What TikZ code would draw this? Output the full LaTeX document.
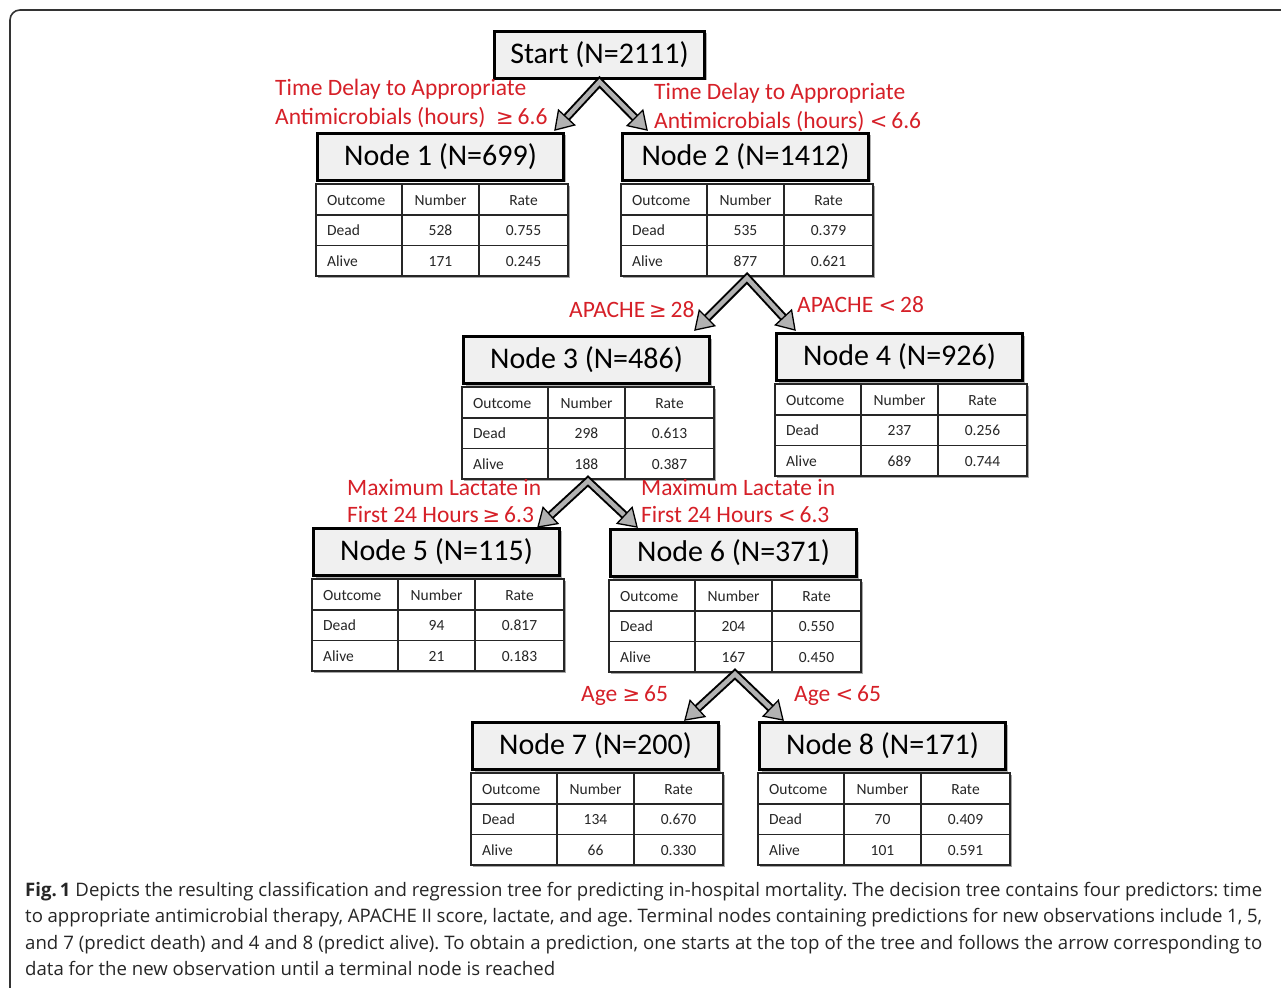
\documentclass[tikz,border=0pt]{standalone}
\usepackage{fontspec}
\setmainfont{Carlito}
\newfontfamily\capfont{Open Sans}
\newfontfamily\symfont{DejaVu Sans}
\usetikzlibrary{calc,shadows}
\definecolor{lblred}{RGB}{214,32,40}
\newcommand\GE{{\symfont\fontsize{21}{22}\selectfont ≥}}
\newcommand\LT{{\symfont\fontsize{21}{22}\selectfont <}}
\tikzset{
  hdr/.style={draw=black, line width=3pt, fill=black!6, minimum width=246pt,
    minimum height=47pt, inner sep=0pt, font=\fontsize{30}{31}\selectfont,
    general shadow={fill=black!30, shadow xshift=2pt, shadow yshift=-2pt}},
  tabline/.style={draw=black!85, line width=1.1pt},
  tabtxt/.style={inner sep=0pt, font=\fontsize{15.5}{16}\selectfont, text=black!85},
  lbl/.style={inner sep=0pt, anchor=west, text=lblred, font=\fontsize{23.5}{24}\selectfont},
  shaft/.style={draw=black, line width=2pt, double=black!30, double distance=4.5pt, line join=miter},
  headsty/.style={draw=black, line width=1.3pt, fill=black!30, line join=miter},
  frame/.style={draw=black!80, line width=1.6pt, rounded corners=10pt}
}
\newcommand\ctab[5]{%
  \coordinate (#1-t) at ($(#1.south west)+(0,2)$);
  \fill[black!35] ($(#1-t)+(2,2)$) rectangle ++(252,92);
  \fill[white] (#1-t) rectangle ++(252,92);
  \draw[tabline] (#1-t) rectangle ++(252,92);
  \draw[tabline] ($(#1-t)+(86,0)$) -- ++(0,92);
  \draw[tabline] ($(#1-t)+(163,0)$) -- ++(0,92);
  \draw[tabline] ($(#1-t)+(0,31)$) -- ++(252,0);
  \draw[tabline] ($(#1-t)+(0,61.5)$) -- ++(252,0);
  \node[tabtxt, anchor=west] (#1-o) at ($(#1-t)+(11,16.5)$) {Outcome};
  \node[tabtxt] (#1-n) at ($(#1-t)+(124.5,16.5)$) {Number};
  \node[tabtxt] (#1-r) at ($(#1-t)+(207.5,16.5)$) {Rate};
  \node[tabtxt, anchor=west] (#1-d) at ($(#1-t)+(11,46.5)$) {Dead};
  \node[tabtxt] (#1-dn) at ($(#1-t)+(124.5,46.5)$) {#2};
  \node[tabtxt] (#1-dr) at ($(#1-t)+(207.5,46.5)$) {#3};
  \node[tabtxt, anchor=west] (#1-a) at ($(#1-t)+(11,77.5)$) {Alive};
  \node[tabtxt] (#1-an) at ($(#1-t)+(124.5,77.5)$) {#4};
  \node[tabtxt] (#1-ar) at ($(#1-t)+(207.5,77.5)$) {#5};
}
\newcommand\arrowhd[2]{%
  \coordinate (hb) at ($(#1)!17pt!(#2)$);
  \draw[headsty] (#1) -- ($(hb)!11pt!90:(#1)$) -- ($(hb)!11pt!-90:(#1)$) -- cycle;
}
\newcommand\splitarrow[3]{%
  \draw[shaft, shorten <=13pt, shorten >=13pt] (#2) -- (#1) -- (#3);
  \arrowhd{#2}{#1}
  \arrowhd{#3}{#1}
}
\begin{document}
\begin{tikzpicture}[x=1pt, y=-1pt]
\useasboundingbox (0,0) rectangle (1281,987);
\fill[white] (0,0) rectangle (1281,987);
\draw[frame] (10,10) rectangle (1310,1020);

% start
\node[hdr, minimum width=210pt, anchor=north west] (start) at (493,30) {Start (N=2111)};

% nodes
\node[hdr, anchor=north west] (n1) at (316,132) {Node 1 (N=699)};
\ctab{n1}{528}{0.755}{171}{0.245}
\node[hdr, anchor=north west] (n2) at (621,132) {Node 2 (N=1412)};
\ctab{n2}{535}{0.379}{877}{0.621}
\node[hdr, anchor=north west] (n3) at (462,335) {Node 3 (N=486)};
\ctab{n3}{298}{0.613}{188}{0.387}
\node[hdr, anchor=north west] (n4) at (775,332) {Node 4 (N=926)};
\ctab{n4}{237}{0.256}{689}{0.744}
\node[hdr, anchor=north west] (n5) at (312,527) {Node 5 (N=115)};
\ctab{n5}{94}{0.817}{21}{0.183}
\node[hdr, anchor=north west] (n6) at (609,528) {Node 6 (N=371)};
\ctab{n6}{204}{0.550}{167}{0.450}
\node[hdr, anchor=north west] (n7) at (471,721) {Node 7 (N=200)};
\ctab{n7}{134}{0.670}{66}{0.330}
\node[hdr, anchor=north west] (n8) at (758,721) {Node 8 (N=171)};
\ctab{n8}{70}{0.409}{101}{0.591}

% arrows
\coordinate (a0) at ($(start.south)+(0,2)$);
\coordinate (t1) at ($(n1.north east)+(-10,-2)$);
\coordinate (t2) at ($(n2.north west)+(26,-2)$);
\splitarrow{a0}{t1}{t2}
\coordinate (a2) at ($(n2-t)+(126,94)$);
\coordinate (t3) at ($(n3.north east)+(-16,-5)$);
\coordinate (t4) at ($(n4.north west)+(20,-2)$);
\splitarrow{a2}{t3}{t4}
\coordinate (a3) at ($(n3-t)+(126,94)$);
\coordinate (t5) at ($(n5.north east)+(-23,0)$);
\coordinate (t6) at ($(n6.north west)+(28,-1)$);
\splitarrow{a3}{t5}{t6}
\coordinate (a6) at ($(n6-t)+(126,94)$);
\coordinate (t7) at ($(n7.north east)+(-35,-1)$);
\coordinate (t8) at ($(n8.north west)+(25,-1)$);
\splitarrow{a6}{t7}{t8}

% labels
\node[lbl] (l1a) at (275,89) {Time Delay to Appropriate};
\node[lbl] (l1b) at (275,118) {Antimicrobials (hours) \ \GE\,6.6};
\node[lbl] (l2a) at (654,93) {Time Delay to Appropriate};
\node[lbl] (l2b) at (654,122) {Antimicrobials (hours) \LT\,6.6};
\node[lbl] (l3) at (569,310) {APACHE\,\GE\,28};
\node[lbl] (l4) at (797,305) {APACHE \LT\,28};
\node[lbl] (l5a) at (347,487) {Maximum Lactate in};
\node[lbl] (l5b) at (347,515) {First 24 Hours\,\GE\,6.3};
\node[lbl] (l6a) at (641,487) {Maximum Lactate in};
\node[lbl] (l6b) at (641,515) {First 24 Hours \LT\,6.3};
\node[lbl] (l7) at (581,696) {Age \GE\,65};
\node[lbl] (l8) at (794,696) {Age \LT\,65};

% caption
\node[anchor=north west, text width=1237pt, align=justify, inner sep=0pt,
  font=\capfont\fontsize{18.6}{26.5}\selectfont\frenchspacing, text=black!85] (cap) at (25,882)
{\textbf{Fig.\,1} Depicts the resulting classification and regression tree for predicting in-hospital mortality. The decision tree contains four predictors: time\linebreak
to appropriate antimicrobial therapy, APACHE II score, lactate, and age. Terminal nodes containing predictions for new observations include 1, 5,\linebreak
and 7 (predict death) and 4 and 8 (predict alive). To obtain a prediction, one starts at the top of the tree and follows the arrow corresponding to\linebreak
data for the new observation until a terminal node is reached};
\end{tikzpicture}
\end{document}
